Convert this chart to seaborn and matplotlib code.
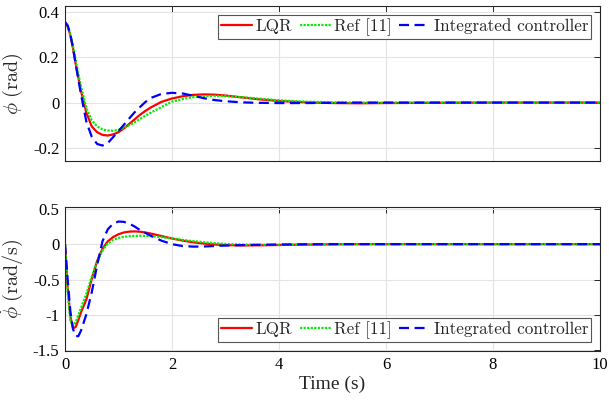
import numpy as np
import pandas as pd
import matplotlib
matplotlib.use("Agg")
import matplotlib.pyplot as plt
import seaborn as sns
from matplotlib.ticker import FuncFormatter

# ---------------- data ----------------
t = [0, 0.05, 0.1, 0.15, 0.2, 0.25, 0.3, 0.4, 0.5, 0.6, 0.7, 0.8, 0.9, 1.0,
     1.1, 1.2, 1.3, 1.4, 1.5, 1.6, 1.8, 2.0, 2.2, 2.4, 2.6, 2.8, 3.0, 3.3,
     3.6, 4.0, 4.5, 5.0, 5.5, 6.0, 7.0, 8.0, 9.0, 10.0]

phi_lqr = [0.35, 0.335, 0.296, 0.238, 0.17, 0.11, 0.05, -0.045, -0.105, -0.13,
           -0.142, -0.145, -0.14, -0.13, -0.114, -0.094, -0.074, -0.054, -0.037,
           -0.022, 0.003, 0.018, 0.028, 0.034, 0.036, 0.035, 0.031, 0.023, 0.015,
           0.007, 0.001, -0.002, -0.003, -0.002, -0.001, 0.0, 0.0, 0.0]
phi_ref = [0.35, 0.336, 0.3, 0.248, 0.185, 0.125, 0.07, -0.025, -0.078, -0.105,
           -0.118, -0.123, -0.124, -0.12, -0.112, -0.1, -0.087, -0.072, -0.058,
           -0.045, -0.02, 0.004, 0.016, 0.024, 0.028, 0.03, 0.028, 0.024, 0.018,
           0.01, 0.004, 0.001, 0.0, 0.0, 0.0, 0.0, 0.0, 0.0]
phi_int = [0.355, 0.34, 0.3, 0.24, 0.17, 0.1, 0.035, -0.085, -0.15, -0.182,
           -0.189, -0.178, -0.152, -0.125, -0.098, -0.07, -0.043, -0.02, 0.002,
           0.02, 0.038, 0.043, 0.04, 0.03, 0.019, 0.011, 0.006, 0.001, -0.001,
           -0.002, -0.002, -0.001, 0.0, 0.0, 0.0, 0.0, 0.0, 0.0]

dphi_lqr = [0.0, -0.62, -1.02, -1.19, -1.17, -1.07, -0.96, -0.78, -0.49, -0.24,
            -0.065, 0.04, 0.1, 0.14, 0.165, 0.177, 0.18, 0.176, 0.165, 0.15,
            0.115, 0.08, 0.05, 0.025, 0.008, -0.005, -0.013, -0.018, -0.017,
            -0.012, -0.006, -0.002, 0.0, 0.0, 0.0, 0.0, 0.0, 0.0]
dphi_ref = [0.0, -0.68, -1.08, -1.16, -1.1, -1.0, -0.9, -0.7, -0.46, -0.25,
            -0.09, 0.01, 0.06, 0.088, 0.103, 0.112, 0.117, 0.118, 0.117, 0.113,
            0.1, 0.08, 0.06, 0.042, 0.026, 0.013, 0.003, -0.005, -0.008, -0.008,
            -0.005, -0.002, 0.0, 0.0, 0.0, 0.0, 0.0, 0.0]
dphi_int = [0.0, -0.5, -0.95, -1.2, -1.3, -1.3, -1.22, -0.99, -0.68, -0.3,
            0.04, 0.21, 0.29, 0.32, 0.315, 0.29, 0.25, 0.2, 0.16, 0.12, 0.05,
            0.0, -0.027, -0.035, -0.033, -0.026, -0.02, -0.014, -0.009, -0.005,
            -0.002, 0.0, 0.0, 0.0, 0.0, 0.0, 0.0, 0.0]

labels = ["LQR", "Ref [11]", "Integrated controller"]

# ---------------- style ----------------
sns.set_style("white")
plt.rcParams["font.family"] = ["Liberation Serif", "DejaVu Serif"]
plt.rcParams["mathtext.fontset"] = "cm"
plt.rcParams["axes.unicode_minus"] = False

colors = {"LQR": "#ff0000", "Ref [11]": "#00ee00", "Integrated controller": "#0000ff"}
dashes = {"LQR": "", "Ref [11]": (1.0, 0.6), "Integrated controller": (4.5, 2.5)}

fig = plt.figure(figsize=(6.09, 4.03), dpi=100)
ax1 = fig.add_axes([65 / 609, 1 - 161 / 403, 535 / 609, 155 / 403])
ax2 = fig.add_axes([65 / 609, 1 - 351 / 403, 535 / 609, 144 / 403])


def long_df(series):
    frames = []
    for lab, vals in zip(labels, series):
        frames.append(pd.DataFrame({"t": t, "v": vals, "ctrl": lab}))
    return pd.concat(frames, ignore_index=True)


df1 = long_df([phi_lqr, phi_ref, phi_int])
df2 = long_df([dphi_lqr, dphi_ref, dphi_int])

fmt = FuncFormatter(lambda v, p: ("%g" % round(v, 3)))

for ax, df, ylim, yticks, ylab, loc in [
    (ax1, df1, (-0.257, 0.425), [-0.2, 0, 0.2, 0.4], r"$\phi\ (\mathrm{rad})$", "upper right"),
    (ax2, df2, (-1.51, 0.525), [-1.5, -1, -0.5, 0, 0.5], r"$\dot{\phi}\ (\mathrm{rad/s})$", "lower right"),
]:
    sns.lineplot(data=df, x="t", y="v", hue="ctrl", style="ctrl",
                 palette=colors, dashes=dashes, hue_order=labels,
                 style_order=labels, linewidth=1.6, ax=ax, legend=True)
    ax.set_xlim(0, 10)
    ax.set_ylim(*ylim)
    ax.set_xticks([0, 2, 4, 6, 8, 10])
    ax.set_yticks(yticks)
    ax.yaxis.set_major_formatter(fmt)
    ax.grid(True, color="#e3e3e3", linewidth=0.8)
    ax.set_axisbelow(True)
    for s in ax.spines.values():
        s.set_visible(True)
        s.set_color("#262626")
        s.set_linewidth(0.8)
    ax.tick_params(direction="in", length=4, width=0.7, top=True, right=True,
                   labelsize=12, colors="#262626", labelcolor="black", pad=4)
    ax.set_ylabel(ylab, fontsize=14.5, labelpad=6)
    ax.set_xlabel("")
    leg = ax.legend(loc=loc, ncol=3, frameon=True, fancybox=False,
                    prop={"family": "cmr10", "size": 12.3},
                    handlelength=1.8, handletextpad=0.2, columnspacing=0.45,
                    borderpad=0.2, borderaxespad=0.5, edgecolor="#555555",
                    framealpha=1.0)
    leg.get_frame().set_linewidth(0.8)
    for h in leg.get_lines():
        h.set_linewidth(1.6)

ax1.tick_params(labelbottom=False)
ax2.set_xlabel("Time (s)", fontsize=14, labelpad=2)
ax1.yaxis.set_label_coords(-0.074, 0.5)
ax2.yaxis.set_label_coords(-0.074, 0.5)

fig.savefig("out.png", dpi=100)
